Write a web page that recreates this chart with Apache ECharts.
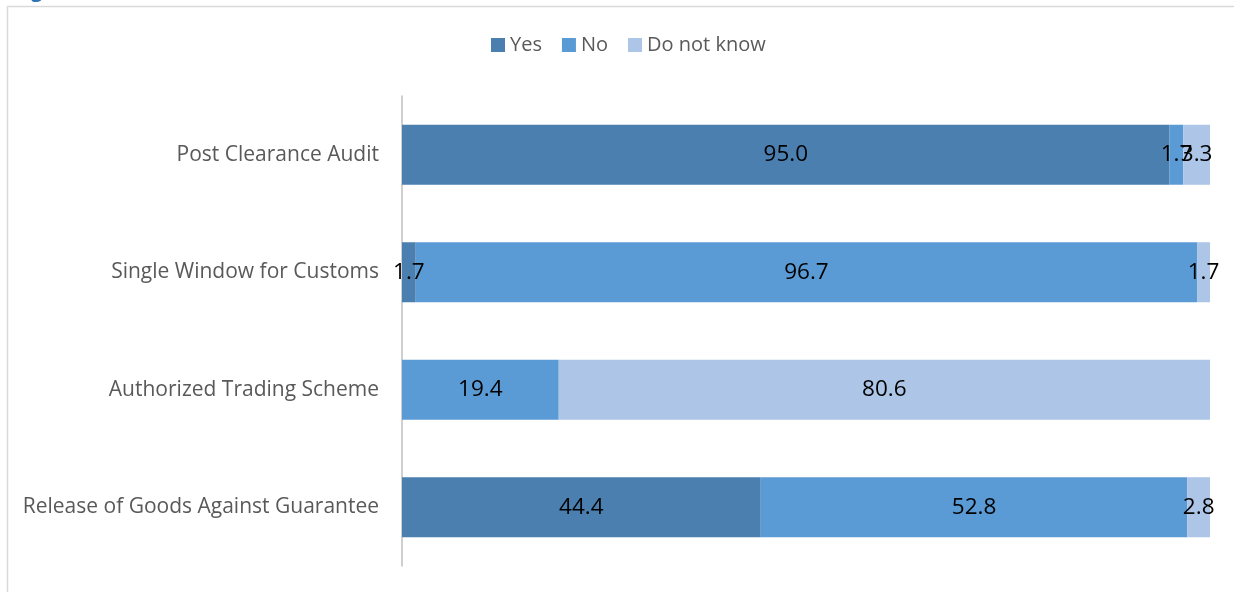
<!DOCTYPE html>
<html>
<head>
<meta charset="utf-8">
<script src="https://cdn.jsdelivr.net/npm/echarts@6/dist/echarts.min.js"></script>
<style>
  html, body { margin: 0; padding: 0; background: #fff; }
  #chart { width: 1234px; height: 592px; }
</style>
</head>
<body>
<div id="chart"></div>
<script>
// Survey responses per customs measure (percent of respondents)
const categories = [
  'Post Clearance Audit',
  'Single Window for Customs',
  'Authorized Trading Scheme',
  'Release of Goods Against Guarantee'
];
const yesValues = [95.0, 1.7, 0, 44.4];
const noValues = [1.7, 96.7, 19.4, 52.8];
const dontKnowValues = [3.3, 1.7, 80.6, 2.8];

const FONT = '"Open Sans", "Noto Sans", sans-serif';

function makeSeries(name, values, color) {
  return {
    name: name,
    type: 'bar',
    stack: 'total',
    data: values,
    barWidth: 60,
    itemStyle: { color: color },
    label: {
      show: true,
      position: 'inside',
      color: '#000',
      fontFamily: FONT,
      fontSize: 22.5,
      formatter: p => (p.value ? p.value.toFixed(1) : '')
    },
    emphasis: { disabled: true }
  };
}

const chart = echarts.init(document.getElementById('chart'));
chart.setOption({
  animation: false,
  graphic: [
    {
      type: 'rect',
      shape: { x: 7.5, y: 6.5, width: 1300, height: 700 },
      style: { fill: 'none', stroke: '#d9d9d9', lineWidth: 1.5 },
      silent: true
    },
    {
      type: 'text',
      left: 14, top: -19,
      style: { text: 'Figure', fill: '#2e74b5', font: 'bold 20px ' + FONT }
    }
  ],
  legend: {
    top: 30,
    left: 486,
    itemWidth: 14,
    itemHeight: 14,
    itemGap: 20,
    icon: 'rect',
    textStyle: { color: '#595959', fontFamily: FONT, fontSize: 20 },
    data: ['Yes', 'No', 'Do not know']
  },
  grid: { left: 402, right: 24, top: 96, bottom: 26 },
  xAxis: {
    type: 'value',
    min: 0,
    max: 100,
    show: false
  },
  yAxis: {
    type: 'category',
    inverse: true,
    data: categories,
    axisLine: { lineStyle: { color: '#bfbfbf', width: 1.5 } },
    axisTick: { show: false },
    axisLabel: { color: '#595959', fontFamily: FONT, fontSize: 21, margin: 23 }
  },
  series: [
    makeSeries('Yes', yesValues, '#4a7fb0'),
    makeSeries('No', noValues, '#5b9bd5'),
    makeSeries('Do not know', dontKnowValues, '#adc5e6')
  ]
});
</script>
</body>
</html>
